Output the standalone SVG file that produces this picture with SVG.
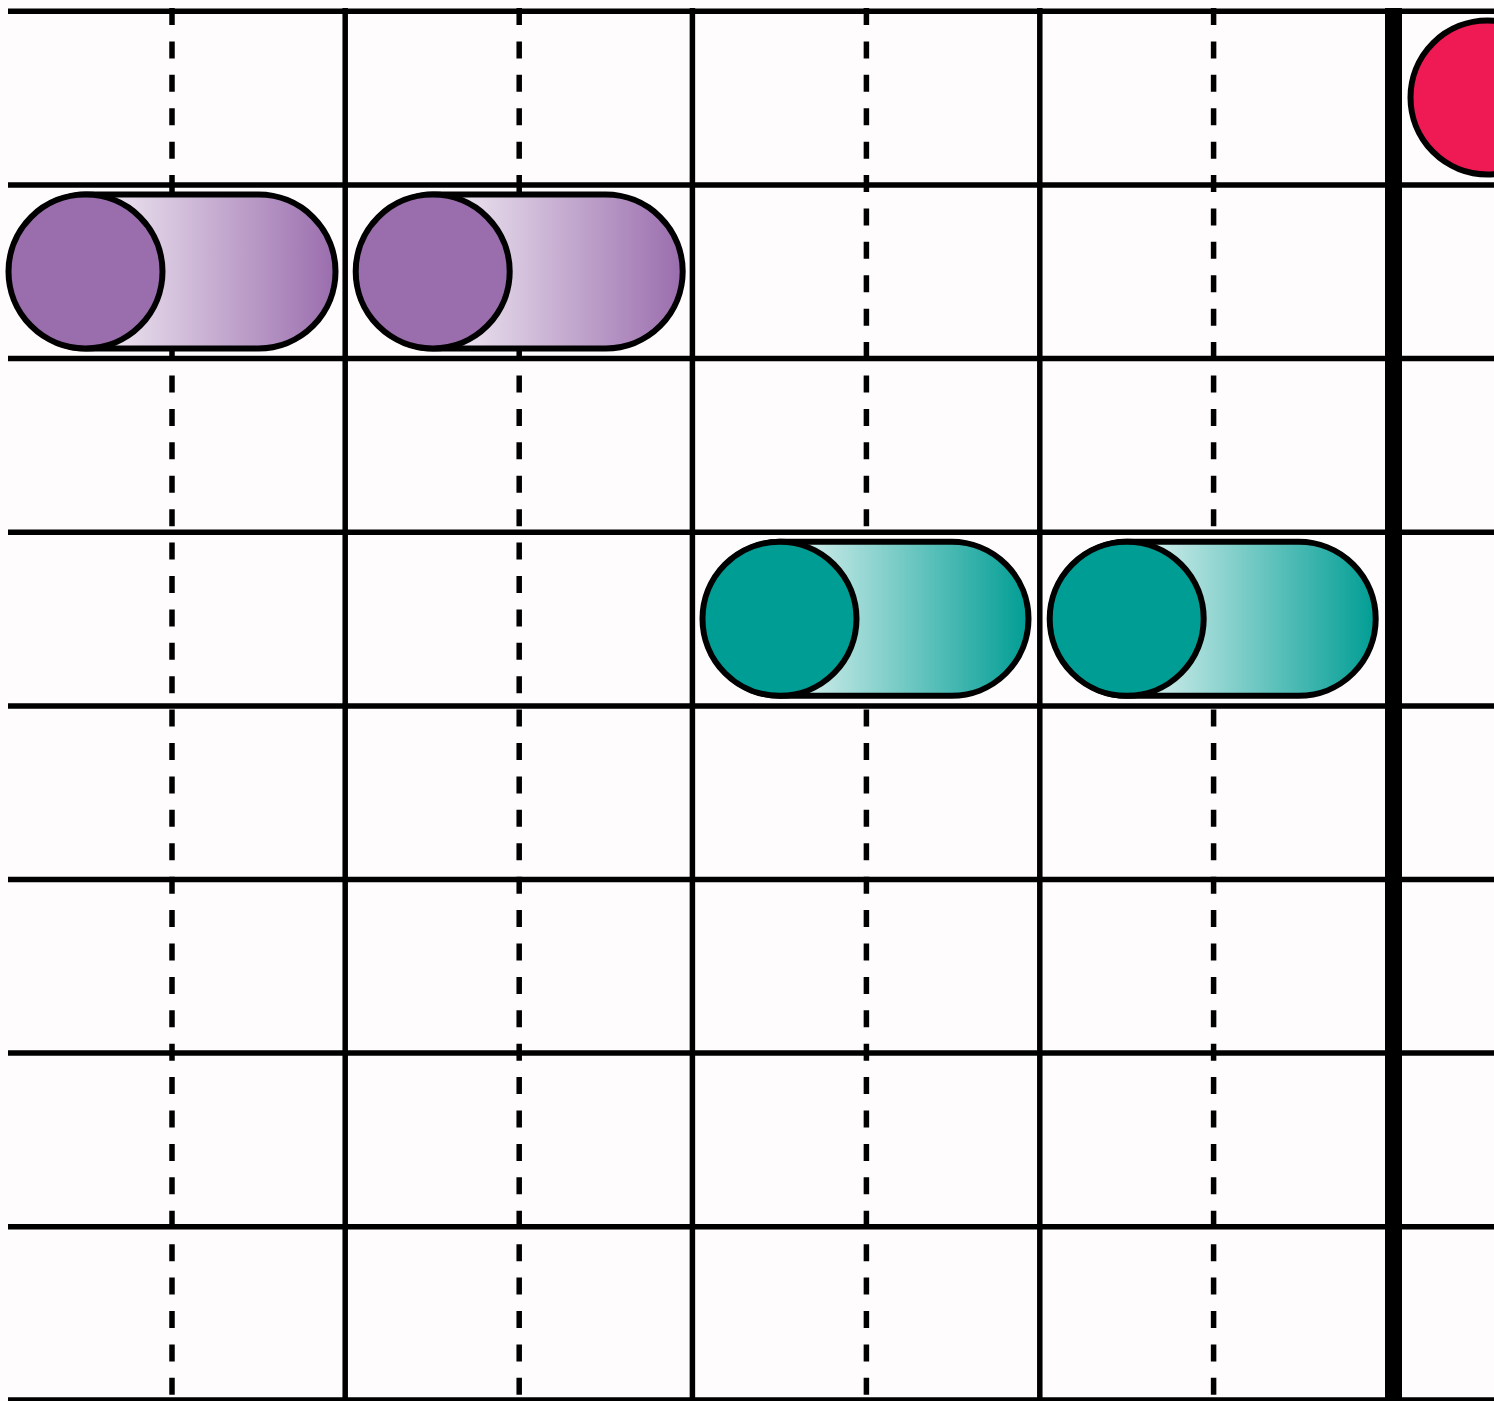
<svg xmlns="http://www.w3.org/2000/svg" width="1494" height="1401" viewBox="0 0 1494 1401">
  <style>
    .grid { stroke: #000; stroke-width: 5.5; fill: none; }
    .dash { stroke: #000; stroke-width: 5.5; stroke-dasharray: 17 16.41; fill: none; }
    .thick { stroke: #000; stroke-width: 17; }
    .outline { stroke: #000; stroke-width: 6; }
  </style>
  <defs>
    <linearGradient id="gPurple" x1="0" y1="0" x2="1" y2="0">
      <stop offset="0.15" stop-color="#ffffff"/>
      <stop offset="1" stop-color="#9a6dad"/>
    </linearGradient>
    <linearGradient id="gTeal" x1="0" y1="0" x2="1" y2="0">
      <stop offset="0.15" stop-color="#ffffff"/>
      <stop offset="1" stop-color="#009d94"/>
    </linearGradient>
  </defs>
  <rect x="0" y="0" width="1494" height="1401" fill="#fffcfd"/>
  <g id="grid">
    <g id="dashed-lines">
      <line class="dash" x1="172" y1="8" x2="172" y2="1401"/>
      <line class="dash" x1="519.2" y1="8" x2="519.2" y2="1401"/>
      <line class="dash" x1="866.4" y1="8" x2="866.4" y2="1401"/>
      <line class="dash" x1="1213.6" y1="8" x2="1213.6" y2="1401"/>
    </g>
    <g id="horizontal-lines">
      <line class="grid" x1="8" y1="11.3" x2="1494" y2="11.3"/>
      <line class="grid" x1="8" y1="185" x2="1494" y2="185"/>
      <line class="grid" x1="8" y1="358.5" x2="1494" y2="358.5"/>
      <line class="grid" x1="8" y1="532.3" x2="1494" y2="532.3"/>
      <line class="grid" x1="8" y1="706" x2="1494" y2="706"/>
      <line class="grid" x1="8" y1="879.5" x2="1494" y2="879.5"/>
      <line class="grid" x1="8" y1="1053" x2="1494" y2="1053"/>
      <line class="grid" x1="8" y1="1226.7" x2="1494" y2="1226.7"/>
      <line class="grid" x1="8" y1="1400" x2="1494" y2="1400"/>
    </g>
    <g id="vertical-lines">
      <line class="grid" x1="345.2" y1="8" x2="345.2" y2="1401"/>
      <line class="grid" x1="692.4" y1="8" x2="692.4" y2="1401"/>
      <line class="grid" x1="1039.8" y1="8" x2="1039.8" y2="1401"/>
      <line class="thick" x1="1393.5" y1="8" x2="1393.5" y2="1401"/>
    </g>
  </g>
  <g id="node-purple-1">
    <rect class="outline" x="10.5" y="194.5" width="325" height="154" rx="77" fill="url(#gPurple)"/>
    <circle class="outline" cx="85.5" cy="271.5" r="77" fill="#9a6dad"/>
  </g>
  <g id="node-purple-2">
    <rect class="outline" x="357.7" y="194.5" width="325" height="154" rx="77" fill="url(#gPurple)"/>
    <circle class="outline" cx="432.7" cy="271.5" r="77" fill="#9a6dad"/>
  </g>
  <g id="node-teal-1">
    <rect class="outline" x="703.5" y="541.8" width="325" height="154" rx="77" fill="url(#gTeal)"/>
    <circle class="outline" cx="779.5" cy="618.8" r="77" fill="#009d94"/>
  </g>
  <g id="node-teal-2">
    <rect class="outline" x="1050.7" y="541.8" width="325" height="154" rx="77" fill="url(#gTeal)"/>
    <circle class="outline" cx="1126.7" cy="618.8" r="77" fill="#009d94"/>
  </g>
  <g id="node-red">
    <circle class="outline" cx="1487.5" cy="97.5" r="77" fill="#ef1a53"/>
  </g>
  <g id="connectors"/>
</svg>
